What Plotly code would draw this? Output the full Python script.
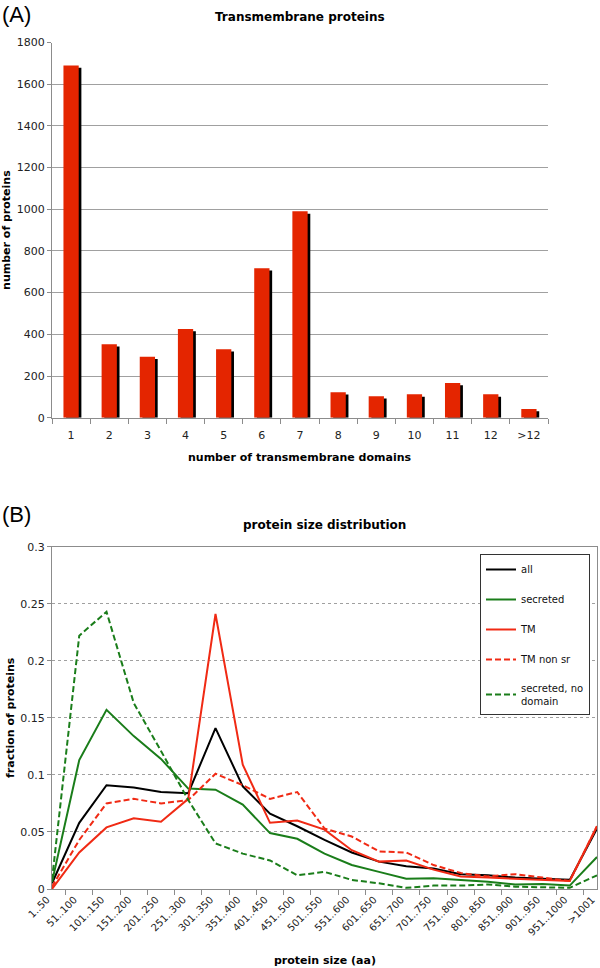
import plotly.graph_objects as go

# (A) transmembrane domain counts
TM_DOMAINS = ['1', '2', '3', '4', '5', '6', '7', '8', '9', '10', '11', '12', '>12']
TM_COUNTS = [1690, 352, 293, 426, 328, 717, 990, 122, 103, 112, 167, 112, 42]

# (B) protein size distribution
SIZE_BINS = ['1..50', '51..100', '101..150', '151..200', '201..250', '251..300',
             '301..350', '351..400', '401..450', '451..500', '501..550', '551..600',
             '601..650', '651..700', '701..750', '751..800', '801..850', '851..900',
             '901..950', '951..1000', '>1001']
FRAC_ALL = [0.005, 0.058, 0.091, 0.089, 0.085, 0.084, 0.141, 0.090, 0.066, 0.055,
            0.043, 0.032, 0.024, 0.020, 0.018, 0.013, 0.012, 0.010, 0.009, 0.008, 0.053]
FRAC_SECRETED = [0.006, 0.113, 0.157, 0.134, 0.114, 0.088, 0.087, 0.074, 0.049, 0.044,
                 0.031, 0.021, 0.015, 0.009, 0.0095, 0.008, 0.0064, 0.004, 0.0044, 0.003, 0.028]
FRAC_TM = [0.0, 0.032, 0.054, 0.062, 0.059, 0.079, 0.241, 0.109, 0.058, 0.060,
           0.052, 0.034, 0.024, 0.025, 0.017, 0.011, 0.010, 0.009, 0.008, 0.007, 0.055]
FRAC_TM_NON_SR = [0.002, 0.043, 0.075, 0.079, 0.075, 0.078, 0.101, 0.091, 0.079, 0.085,
                  0.053, 0.046, 0.033, 0.032, 0.021, 0.014, 0.011, 0.013, 0.010, 0.007, 0.055]
FRAC_SECRETED_NO_DOMAIN = [0.008, 0.222, 0.243, 0.163, 0.121, 0.078, 0.040, 0.031, 0.025, 0.012,
                           0.015, 0.008, 0.005, 0.001, 0.003, 0.003, 0.004, 0.002, 0.0015, 0.001, 0.012]

W, H = 600, 968
FONT = 'DejaVu Sans'
RED_BAR = '#e42500'
RED = '#f02a14'
GREEN = '#1a7d1a'
GRID = '#a0a0a0'
AXIS = '#8c8c8c'
DASH = '6px,3px'


def py(px_from_top):
    # pixel row -> paper coordinate
    return 1 - px_from_top / H


fig = go.Figure()

# bar shadow, then the red bars on top
fig.add_trace(go.Bar(x=TM_DOMAINS, y=[v - 11 for v in TM_COUNTS], width=0.4, offset=-0.13,
                     marker=dict(color='black', line=dict(width=0)),
                     showlegend=False, hoverinfo='skip', xaxis='x', yaxis='y'))
fig.add_trace(go.Bar(x=TM_DOMAINS, y=TM_COUNTS, width=0.4, offset=-0.2,
                     marker=dict(color=RED_BAR, line=dict(width=0)),
                     showlegend=False, xaxis='x', yaxis='y'))

series = [
    ('all', FRAC_ALL, 'black', 'solid'),
    ('secreted', FRAC_SECRETED, GREEN, 'solid'),
    ('TM', FRAC_TM, RED, 'solid'),
    ('TM non sr', FRAC_TM_NON_SR, RED, DASH),
    ('secreted, no<br>domain', FRAC_SECRETED_NO_DOMAIN, GREEN, DASH),
]
for name, vals, color, dash in series:
    fig.add_trace(go.Scatter(x=SIZE_BINS, y=vals, mode='lines', name=name,
                             legendgroup=name,
                             line=dict(color=color, width=2, dash=dash),
                             xaxis='x2', yaxis='y2'))

tick_font = dict(family=FONT, size=11, color='#222')
title_font = dict(family=FONT, size=11, color='black')

fig.update_layout(
    width=W, height=H,
    margin=dict(l=0, r=0, t=0, b=0),
    paper_bgcolor='white', plot_bgcolor='white',
    barmode='overlay',
    font=dict(family=FONT, size=11, color='#111'),
    xaxis=dict(domain=[52 / W, 548 / W], anchor='y', type='category',
               ticks='outside', tickson='boundaries', ticklen=5, tickcolor=AXIS,
               showline=True, linecolor=AXIS, showgrid=False, tickfont=tick_font,
               ticklabelstandoff=7, automargin=False),
    yaxis=dict(domain=[py(417.7), py(42.5)], anchor='x', range=[0, 1800], dtick=200,
               ticks='outside', ticklen=4, tickcolor=AXIS,
               showline=True, linecolor=AXIS, gridcolor=GRID, zeroline=False,
               tickfont=tick_font, automargin=False,
               title=dict(text='<b>number of proteins</b>', font=title_font, standoff=3)),
    xaxis2=dict(domain=[52 / W, 597 / W], anchor='y2', type='category',
                ticks='outside', tickson='boundaries', ticklen=5, tickcolor=AXIS,
                tickangle=-45, showline=True, linecolor=AXIS, mirror=True,
                showgrid=False, tickfont=dict(family=FONT, size=10, color='#222'),
                ticklabelshift=-5, automargin=False),
    yaxis2=dict(domain=[py(889), py(546.7)], anchor='x2', range=[0, 0.3], dtick=0.05,
                ticks='outside', ticklen=4, tickcolor=AXIS,
                showline=True, linecolor=AXIS, mirror=True,
                gridcolor=GRID, griddash='dot', zeroline=False, tickfont=tick_font,
                automargin=False,
                title=dict(text='<b>fraction of proteins</b>', font=title_font, standoff=3)),
    legend=dict(x=590 / W, y=py(554), xanchor='right', yanchor='top',
                bordercolor='#333', borderwidth=1, bgcolor='white',
                font=dict(family=FONT, size=10, color='#111'),
                tracegroupgap=11),
)

annotations = [
    dict(text='(A)', x=0, y=py(0), xanchor='left', yanchor='top',
         font=dict(family='Liberation Sans', size=22, color='black')),
    dict(text='(B)', x=0, y=py(514), xanchor='left', yanchor='middle',
         font=dict(family='Liberation Sans', size=22, color='black')),
    dict(text='<b>Transmembrane proteins</b>', x=300 / W, y=py(17),
         font=dict(family=FONT, size=12, color='black')),
    dict(text='<b>number of transmembrane domains</b>', x=300 / W, y=py(458),
         font=title_font),
    dict(text='<b>protein size distribution</b>', x=324.5 / W, y=py(525),
         font=dict(family=FONT, size=12, color='black')),
    dict(text='<b>protein size (aa)</b>', x=324.5 / W, y=py(960),
         font=title_font),
]
for a in annotations:
    a.setdefault('xanchor', 'center')
    a.setdefault('yanchor', 'middle')
    fig.add_annotation(xref='paper', yref='paper', showarrow=False, **a)

# drop the page's default body margin so the figure sits at the top-left corner
fig.write_html('out.html', config={'displayModeBar': False},
               post_script="document.body.style.margin='0';document.body.style.overflow='hidden';")
